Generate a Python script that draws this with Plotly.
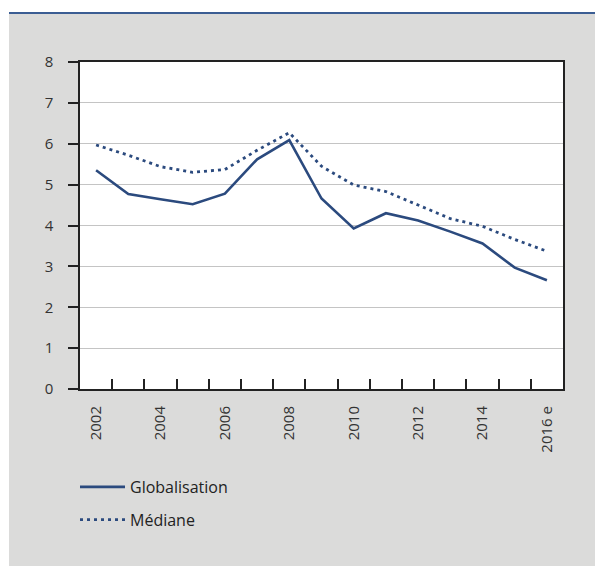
import plotly.graph_objects as go

# Annual series, 2002 to 2016 (2016 estimated)
years = list(range(2002, 2017))
globalisation = [5.35, 4.77, 4.64, 4.52, 4.78, 5.62, 6.09, 4.66, 3.93, 4.30, 4.12, 3.85, 3.56, 2.97, 2.66]
mediane = [5.97, 5.72, 5.44, 5.30, 5.37, 5.84, 6.27, 5.45, 4.99, 4.83, 4.50, 4.17, 3.98, 3.66, 3.37]

label_years = [2002, 2004, 2006, 2008, 2010, 2012, 2014, 2016]
label_text = ["2002", "2004", "2006", "2008", "2010", "2012", "2014", "2016 e"]
y_ticks = list(range(0, 9))

BLUE = "#2b4a7e"
PANEL = "#dbdbda"
FONT = "Open Sans"

W, H = 595, 566
L, R, T, B = 80, 32, 62, 177
pw, ph = W - L - R, H - T - B


def px_x(v):
    return (v - L) / pw


def px_y(v):
    return (H - B - v) / ph


fig = go.Figure()
fig.add_trace(go.Scatter(
    x=years, y=globalisation, name="Globalisation", mode="lines",
    line=dict(color=BLUE, width=2.6), legendgroup="g1",
))
fig.add_trace(go.Scatter(
    x=years, y=mediane, name="Médiane", mode="lines", xaxis="x2",
    line=dict(color=BLUE, width=2.8, dash="3px,4px"), legendgroup="g2",
))

boundaries = [y + 0.5 for y in years[:-1]]

fig.update_layout(
    width=W, height=H,
    margin=dict(l=L, r=R, t=T, b=B, pad=0),
    paper_bgcolor=PANEL,
    plot_bgcolor="white",
    font=dict(family=FONT, size=15, color="#333333"),
    xaxis=dict(
        range=[years[0] - 0.5, years[-1] + 0.5],
        tickvals=boundaries, showticklabels=False,
        ticks="inside", ticklen=10, tickwidth=1.5, tickcolor="#222222",
        showline=True, linecolor="#222222", linewidth=1.5, mirror=True,
        showgrid=False, zeroline=False,
    ),
    xaxis2=dict(
        overlaying="x", matches="x", side="bottom", anchor="y",
        tickvals=label_years, ticktext=label_text, tickangle=-90,
        ticks="", ticklabelstandoff=13,
        showgrid=False, zeroline=False, showline=False,
        tickfont=dict(family=FONT, size=15, color="#333333"),
    ),
    yaxis=dict(
        range=[0, 8], tickvals=y_ticks,
        ticks="outside", ticklen=10, tickwidth=1.5, tickcolor="#222222",
        ticklabelstandoff=12,
        showline=True, linecolor="#222222", linewidth=1.5, mirror=True,
        showgrid=True, gridcolor="#c4c4c4", gridwidth=1.2, zeroline=False,
        tickfont=dict(family=FONT, size=15, color="#333333"),
    ),
    legend=dict(
        x=px_x(75), y=px_y(470), xanchor="left", yanchor="top",
        bgcolor="rgba(0,0,0,0)", font=dict(family=FONT, size=16, color="#222222"),
        tracegroupgap=9, itemwidth=45,
    ),
    shapes=[
        # white margin strips around the grey panel
        dict(type="rect", xref="paper", yref="paper", layer="below",
             x0=px_x(-5), x1=px_x(9), y0=px_y(H + 5), y1=px_y(-5),
             fillcolor="white", line=dict(width=0)),
        dict(type="rect", xref="paper", yref="paper", layer="below",
             x0=px_x(-5), x1=px_x(W + 5), y0=px_y(13), y1=px_y(-5),
             fillcolor="white", line=dict(width=0)),
        # blue rule along the top of the panel
        dict(type="line", xref="paper", yref="paper", layer="below",
             x0=px_x(9), x1=px_x(W + 5), y0=px_y(13), y1=px_y(13),
             line=dict(color="#3b5d93", width=2.2)),
    ],
)

fig.write_html("out.html")
